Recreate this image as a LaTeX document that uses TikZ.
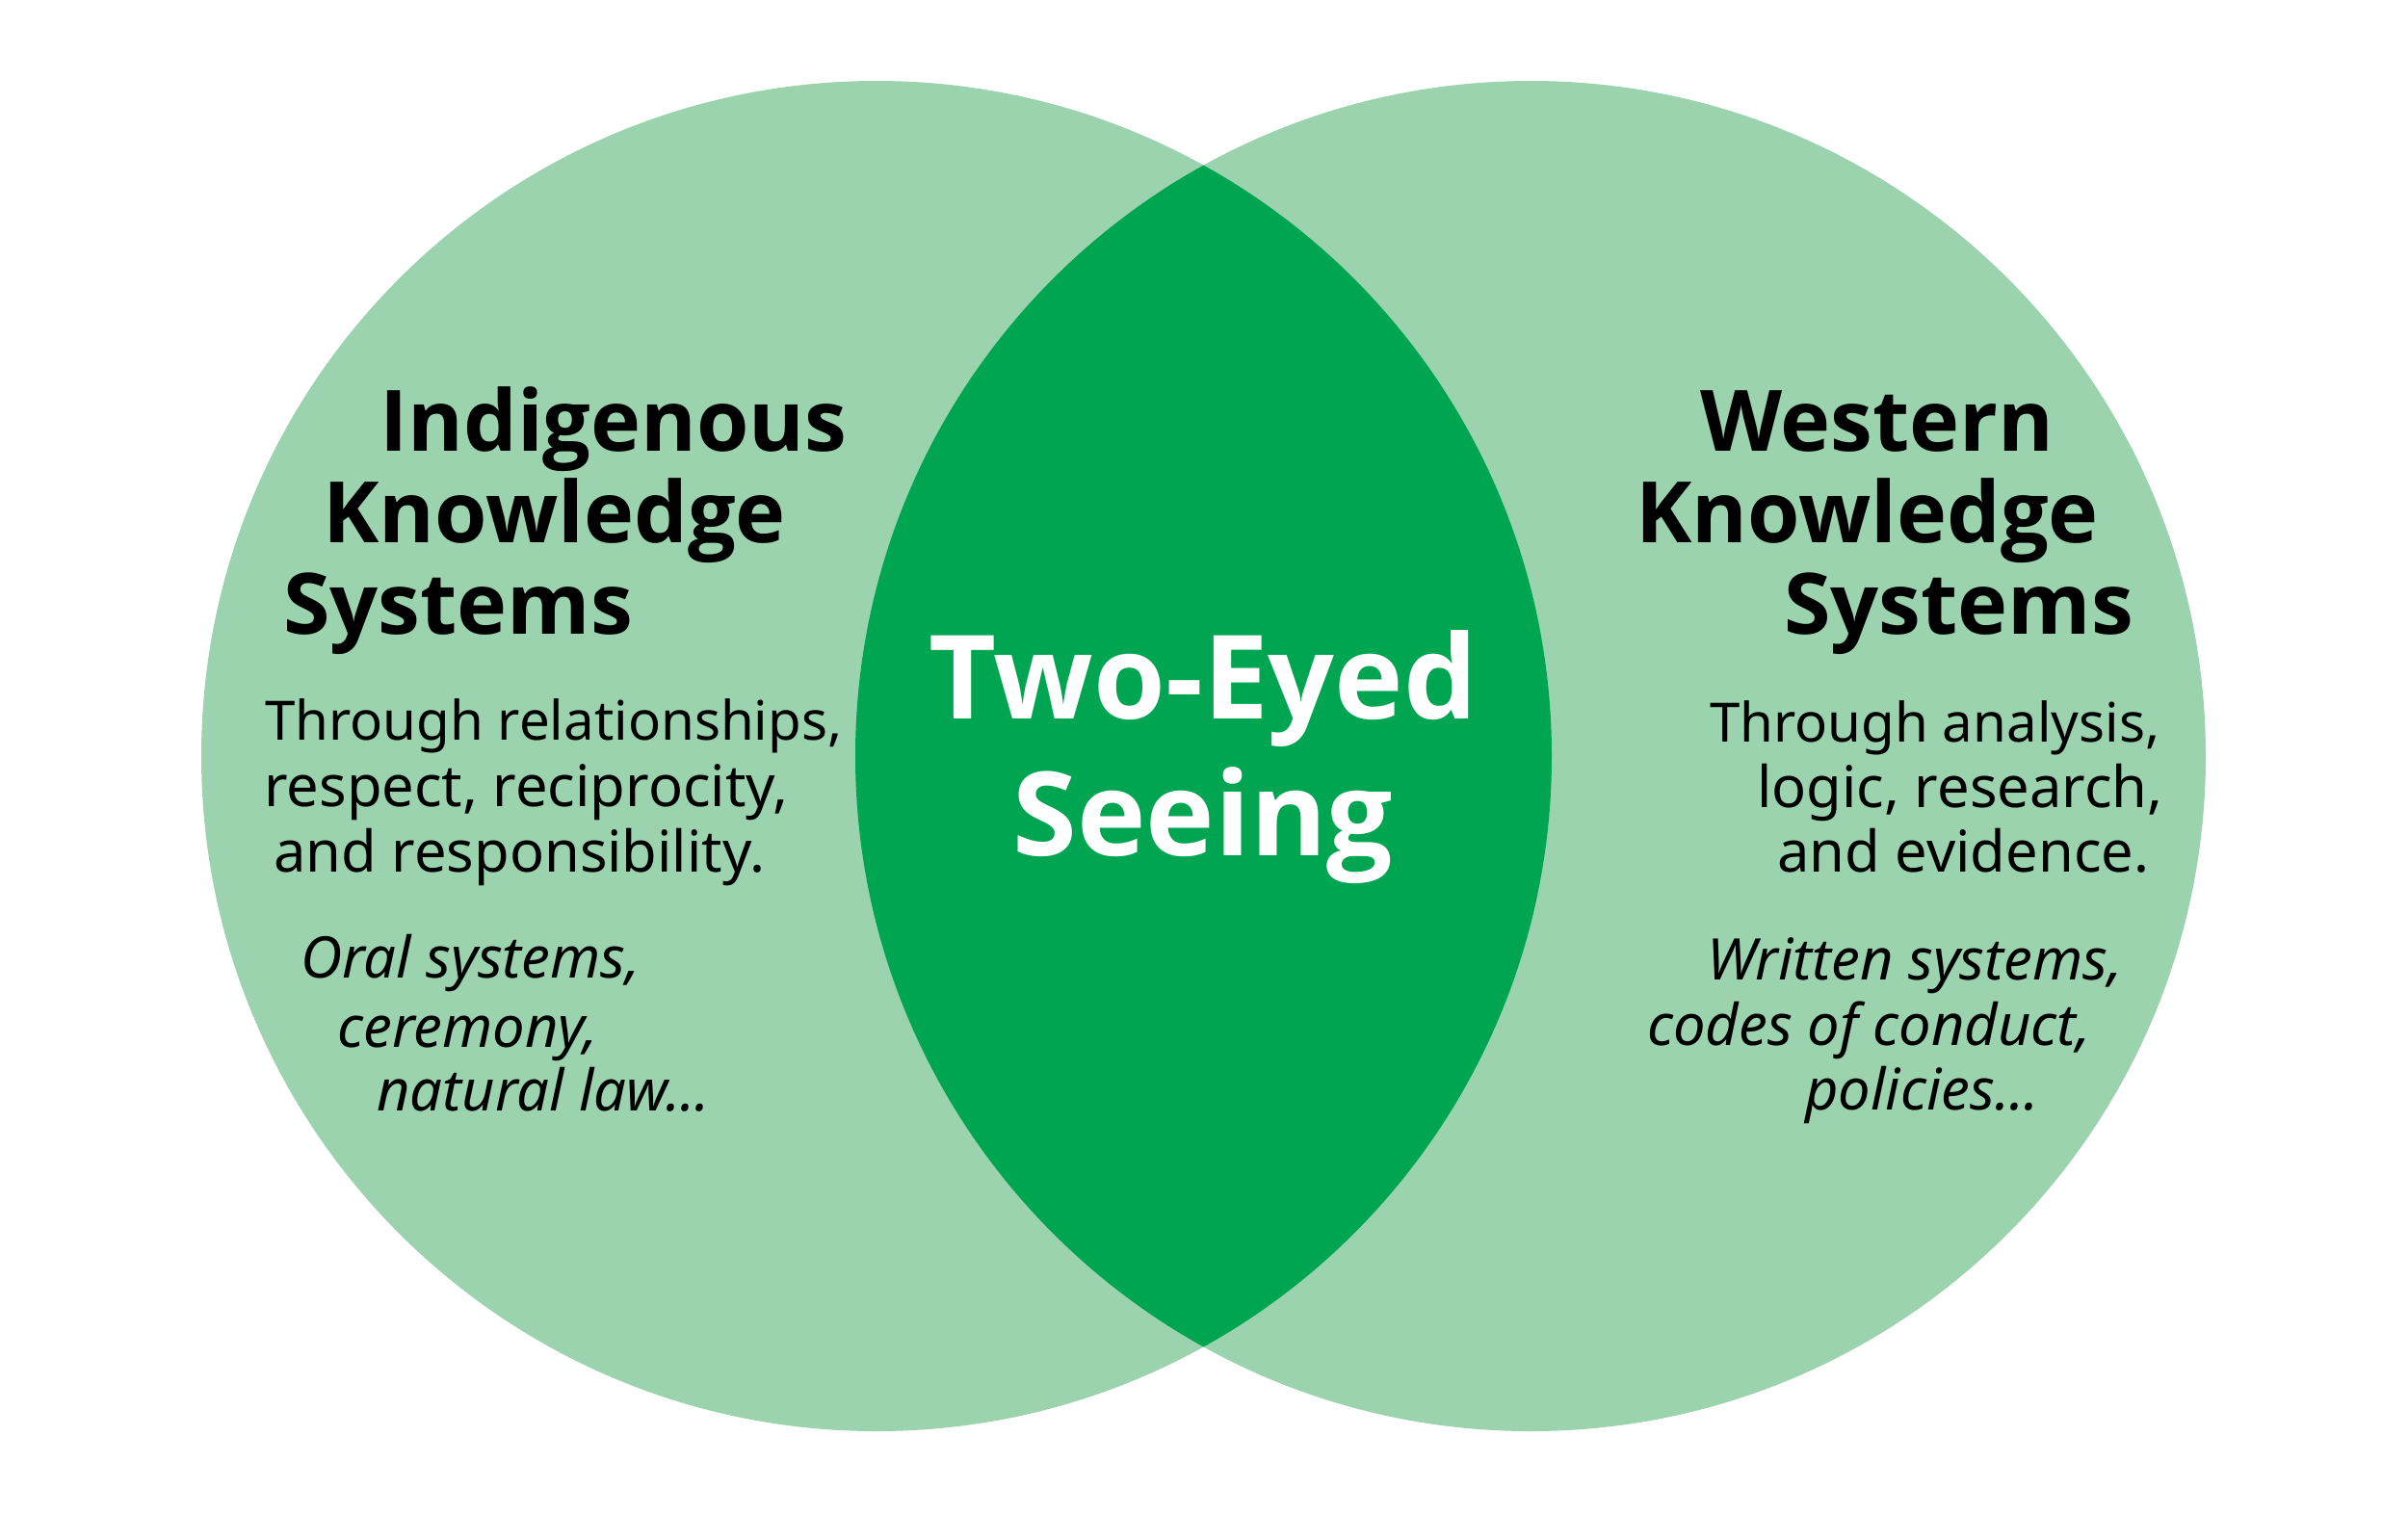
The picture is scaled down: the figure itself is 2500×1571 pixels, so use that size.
\documentclass[tikz,border=0pt]{standalone}
\usepackage{fontspec}
\setmainfont{Noto Sans}
\newfontfamily\headfam{Open Sans}
\definecolor{lightgreen}{HTML}{9BD3AE}
\definecolor{darkgreen}{HTML}{00A551}
\tikzset{
  head/.style={anchor=base west,inner sep=0pt,font=\headfam\fontsize{44}{50}\selectfont\bfseries,text=black},
  body/.style={anchor=base west,inner sep=0pt,font=\fontsize{28.2}{32}\selectfont,text=black},
  bodyw/.style={anchor=base west,inner sep=0pt,font=\fontsize{29.8}{34}\selectfont,text=black},
  ital/.style={anchor=base west,inner sep=0pt,font=\fontsize{29.8}{34}\selectfont\itshape,text=black},
  center/.style={anchor=base,inner sep=0pt,font=\headfam\fontsize{60.5}{70}\selectfont\bfseries,text=white}
}
\begin{document}
\begin{tikzpicture}[x=0.5pt,y=-0.5pt]
\useasboundingbox (0,0) rectangle (2500,1571);
\fill[white] (0,0) rectangle (2500,1571);
\fill[lightgreen] (910,785) circle[radius=350.5pt];
\fill[lightgreen] (1589,785) circle[radius=350.5pt];
\begin{scope}
  \clip (910,785) circle[radius=350.5pt];
  \fill[darkgreen] (1589,785) circle[radius=350.5pt];
\end{scope}
% left heading
\node[head] (l1) at (394,468) {Indigenous};
\node[head] (l2) at (335,563) {Knowledge};
\node[head] (l3) at (294,658) {Systems};
% left body
\node[body] (lb1) at (275,768) {Through relationships,};
\node[bodyw] (lb2) at (274,837) {respect, reciprocity,};
\node[bodyw] (lb3) at (284,905) {and responsibility.};
\node[ital] (li1) at (312,1015) {Oral systems,};
\node[ital] (li2) at (350,1087) {ceremony,};
\node[ital] (li3) at (391,1153) {natural law...};
% right heading
\node[head] (r1) at (1765,468) {Western};
\node[head] (r2) at (1698,563) {Knowledge};
\node[head] (r3) at (1852,658) {Systems};
% right body
\node[body] (rb1) at (1775,770) {Through analysis,};
\node[bodyw] (rb2) at (1824,838) {logic, research,};
\node[bodyw] (rb3) at (1845,905) {and evidence.};
\node[ital] (ri1) at (1772,1017) {Written systems,};
\node[ital] (ri2) at (1710,1085) {codes of conduct,};
\node[ital] (ri3) at (1874,1152) {policies...};
% center
\node[center] (c1) at (1249,746) {Two-Eyed};
\node[center] (c2) at (1249,888) {Seeing};
\end{tikzpicture}
\end{document}
